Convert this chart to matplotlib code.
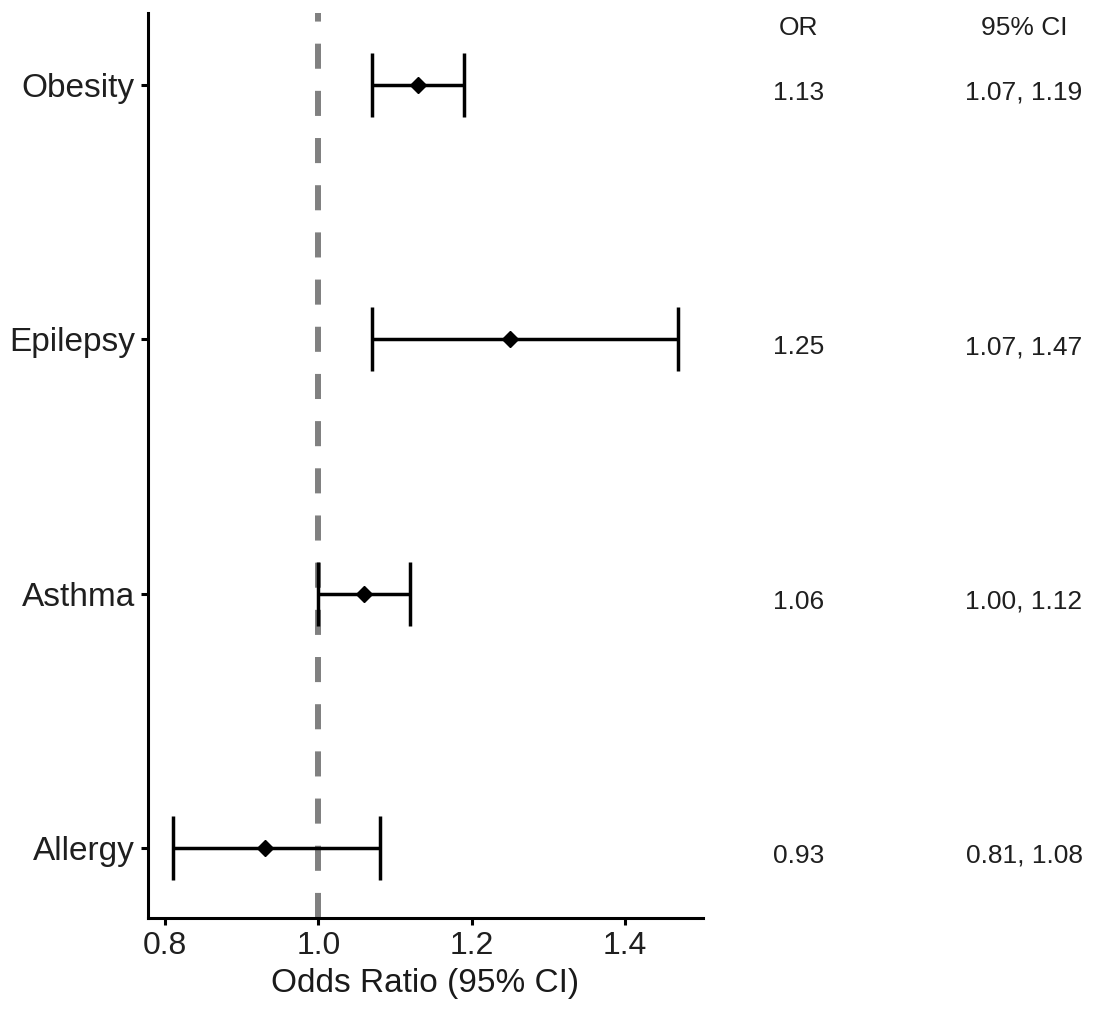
import matplotlib
matplotlib.use('Agg')
import matplotlib.pyplot as plt
from matplotlib.transforms import blended_transform_factory

# ---- data ----
conditions = ['Obesity', 'Epilepsy', 'Asthma', 'Allergy']
odds_ratio = [1.13, 1.25, 1.06, 0.93]
ci_low = [1.07, 1.07, 1.00, 0.81]
ci_high = [1.19, 1.47, 1.12, 1.08]
or_labels = ['1.13', '1.25', '1.06', '0.93']
ci_labels = ['1.07, 1.19', '1.07, 1.47', '1.00, 1.12', '0.81, 1.08']
x_ticks = [0.8, 1.0, 1.2, 1.4]
x_ticklabels = ['0.8', '1.0', '1.2', '1.4']
reference_line = 1.0

plt.rcParams['font.family'] = ['Liberation Sans', 'DejaVu Sans']

W, H = 1097, 1010
fig = plt.figure(figsize=(W / 100, H / 100), dpi=100)
ax = fig.add_axes([148 / W, 1 - 918 / H, (703 - 148) / W, (918 - 13) / H])

ypos = list(range(len(conditions), 0, -1))

ax.axvline(reference_line, color='#808080', lw=4.3, dashes=(4.2, 3.7), zorder=1)

xerr = [[o - l for o, l in zip(odds_ratio, ci_low)],
        [h - o for o, h in zip(odds_ratio, ci_high)]]
ax.errorbar(odds_ratio, ypos, xerr=xerr, fmt='D', color='black', ms=8.5,
            elinewidth=2.5, capsize=22.7, capthick=2.5, zorder=3)

ax.set_xlim(0.7778, 1.502)
ax.set_ylim(0.7247, 4.283)
ax.set_xticks(x_ticks)
ax.set_xticklabels(x_ticklabels)
ax.set_yticks(ypos)
ax.set_yticklabels(conditions)

for s in ['top', 'right']:
    ax.spines[s].set_visible(False)
for s in ['left', 'bottom']:
    ax.spines[s].set_linewidth(2.2)
ax.tick_params(axis='both', direction='out', length=5, width=2.2, color='black',
               labelcolor='#1f1f1f', pad=4.5)
ax.tick_params(axis='x', labelsize=23)
ax.tick_params(axis='y', labelsize=24)
ax.set_xlabel('Odds Ratio (95% CI)', fontsize=24, color='#1a1a1a', labelpad=5)

tr = blended_transform_factory(fig.transFigure, ax.transData)
px = 1 / 254.3
header_y = 4 + (85 - 28) * px
fs_txt = 19
fig.text(799 / W, header_y, 'OR', transform=tr, ha='center', va='center',
         fontsize=fs_txt, color='#1f1f1f')
fig.text(1024 / W, header_y, '95% CI', transform=tr, ha='center', va='center',
         fontsize=fs_txt, color='#1f1f1f')
for y, a, b in zip(ypos, or_labels, ci_labels):
    fig.text(799 / W, y - 8 * px, a, transform=tr, ha='center', va='center',
             fontsize=fs_txt, color='#1f1f1f')
    fig.text(1024 / W, y - 8 * px, b, transform=tr, ha='center', va='center',
             fontsize=fs_txt, color='#1f1f1f')

fig.savefig('out.png', dpi=100)
